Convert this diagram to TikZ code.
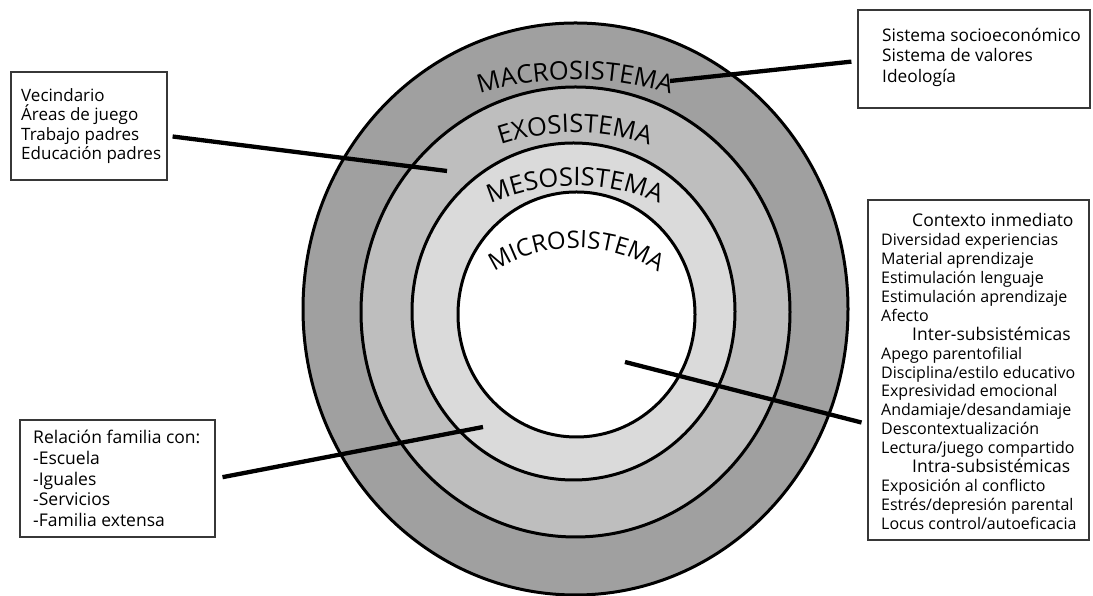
\documentclass[tikz,border=0pt]{standalone}
\usepackage{fontspec}
\setmainfont{Open Sans}
\usetikzlibrary{decorations.text}
\definecolor{ringA}{RGB}{160,160,160}
\definecolor{ringB}{RGB}{190,190,190}
\definecolor{ringC}{RGB}{218,218,218}
\definecolor{boxline}{RGB}{55,55,55}
\newcommand\ringfont{\fontsize{25.5}{30}\selectfont}
\newcommand\ringfontsm{\fontsize{24}{30}\selectfont}
\newcommand\hd[1]{\hspace*{31pt}{\fontsize{17.5}{18.9}\selectfont #1}}
\begin{document}
\begin{tikzpicture}[x=1pt,y=1pt,
  ring/.style={draw=black,line width=3pt},
  conn/.style={draw=black,line width=4.3pt},
  infobox/.style={draw=boxline,line width=1.3pt,fill=white,rectangle,inner sep=0pt},
  btext/.style={align=left,inner sep=0pt,anchor=west},
  arclabel/.style={decorate,decoration={text along path,text align=center,text={#1}}}
]
\useasboundingbox (0,0) rectangle (1093,596);
% rings
\path[ring,fill=ringA] (575.5,287) ellipse [x radius=272.5pt, y radius=286pt];
\path[ring,fill=ringB] (575.5,284) ellipse [x radius=214.5pt, y radius=225pt];
\path[ring,fill=ringC] (573.5,284.5) ellipse [x radius=161.5pt, y radius=168.5pt];
\path[ring,fill=white] (576.5,281.5) ellipse [x radius=118.5pt, y radius=122.5pt];
% ring labels
\path[arclabel={|\ringfont|MACROSISTEMA}] (575,196.5) ++(130:320) arc[start angle=130, end angle=50, radius=320];
\path[arclabel={|\ringfont|EXOSISTEMA}] (575,231.4) ++(135:232) arc[start angle=135, end angle=45, radius=232];
\path[arclabel={|\ringfont|MESOSISTEMA}] (575,196) ++(140:214) arc[start angle=140, end angle=40, radius=214];
\path[arclabel={|\ringfontsm|MICROSISTEMA}] (576.5,196) ++(150:152) arc[start angle=150, end angle=30, radius=152];
% boxes
\node[infobox,minimum width=156pt,minimum height=108pt] (tlbox) at (89,470) {};
\node[btext,font=\fontsize{17}{19.5}\selectfont] (tltext) at (21,470) {Vecindario\\Áreas de juego\\Trabajo padres\\Educación padres};
\node[infobox,minimum width=232pt,minimum height=98pt] (trbox) at (974,537) {};
\node[btext,font=\fontsize{17.3}{20.5}\selectfont] (trtext) at (882,539) {Sistema socioeconómico\\Sistema de valores\\Ideología};
\node[infobox,minimum width=221pt,minimum height=340pt] (rbox) at (978.5,226) {};
\node[btext,font=\fontsize{16}{18.9}\selectfont] (rtext) at (881,224.5) {\hd{Contexto inmediato}\\
Diversidad experiencias\\
Material aprendizaje\\
Estimulación lenguaje\\
Estimulación aprendizaje\\
Afecto\\
\hd{Inter-subsistémicas}\\
Apego parentofilial\\
Disciplina/estilo educativo\\
Expresividad emocional\\
Andamiaje/desandamiaje\\
Descontextualización\\
Lectura/juego compartido\\
\hd{Intra-subsistémicas}\\
Exposición al conflicto\\
Estrés/depresión parental\\
Locus control/autoeficacia};
\node[infobox,minimum width=195pt,minimum height=117pt] (blbox) at (117.5,117.5) {};
\node[btext,font=\fontsize{17.5}{20.8}\selectfont] (bltext) at (33,117.5) {Relación familia con:\\-Escuela\\-Iguales\\-Servicios\\-Familia extensa};
% connector ends
\coordinate (tlend) at (447,425);
\coordinate (trend) at (670,515);
\coordinate (blend) at (483,169);
\coordinate (rend) at (625,234);
\draw[conn,shorten <=5pt] (tlbox) -- (tlend);
\draw[conn,shorten >=6pt] (trend) -- ([yshift=-2pt]trbox.west);
\draw[conn,shorten <=7pt] (blbox.east) -- (blend);
\draw[conn,shorten >=6pt] (rend) -- ([yshift=-54pt]rbox.west);
\end{tikzpicture}
\end{document}
